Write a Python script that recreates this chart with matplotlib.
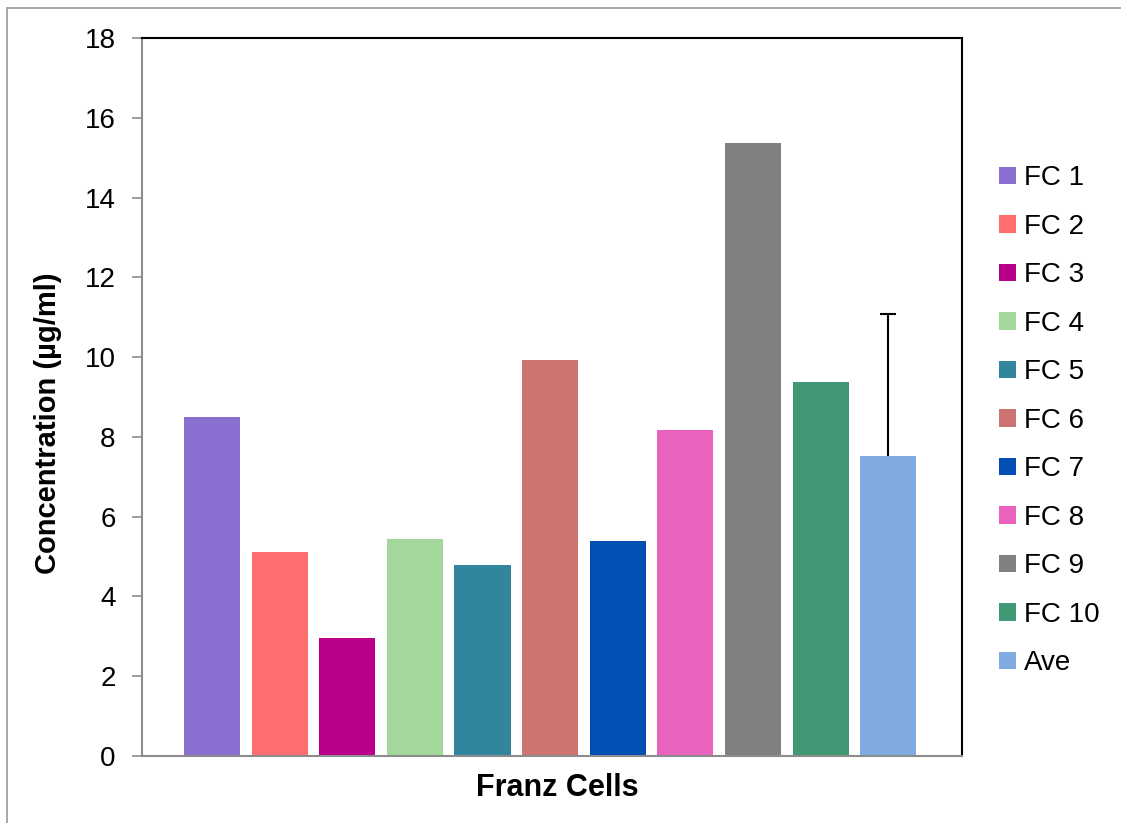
import numpy as np
import matplotlib.pyplot as plt
from matplotlib.patches import Rectangle

plt.rcParams['font.family'] = ['Liberation Sans', 'DejaVu Sans']

labels = ["FC 1", "FC 2", "FC 3", "FC 4", "FC 5", "FC 6", "FC 7", "FC 8", "FC 9", "FC 10", "Ave"]
values = [8.50, 5.12, 2.97, 5.45, 4.78, 9.93, 5.40, 8.17, 15.37, 9.37, 7.51]
ave_err_upper = 3.56
colors = ["#8B6FD0", "#FF6E6E", "#B8008A", "#A2D89A", "#31869E",
          "#CD7371", "#0350B5", "#E962BE", "#808080", "#409874", "#80ABE0"]

fig = plt.figure(figsize=(11.21, 8.23), dpi=100)
# outer chart frame (only left and top edges fall inside the image)
fig.patches.append(Rectangle((7 / 1121, -0.05), 1.2, 1 - 8 / 823 + 0.05,
                             transform=fig.transFigure, fill=False,
                             edgecolor="#9a9a9a", lw=1.2))
ax = fig.add_axes([142 / 1121, 1 - 756 / 823, 820 / 1121, 718 / 823])

x = np.arange(len(values))
for i, (v, c, lab) in enumerate(zip(values, colors, labels)):
    ax.bar(x[i], v, width=0.83, color=c, label=lab, zorder=2)
eb = ax.errorbar(x[-1], values[-1], yerr=[[0], [ave_err_upper]], fmt="none",
                 ecolor="black", elinewidth=1.5, capsize=6, capthick=1.5, zorder=3)
eb[1][0].set_visible(False)  # no cap at the bar top

ax.set_xlim(-1.035, 11.09)
ax.set_ylim(0, 18)
ax.set_yticks(range(0, 19, 2))
ax.set_xticks([])
ax.tick_params(axis="y", labelsize=20, length=7, color="#8c8c8c", pad=12, width=1.2)

ax.spines["left"].set_color("#8c8c8c")
ax.spines["left"].set_linewidth(1.5)
ax.spines["bottom"].set_color("#8c8c8c")
ax.spines["bottom"].set_linewidth(1.5)
ax.spines["top"].set_linewidth(1.5)
ax.spines["right"].set_linewidth(1.5)

ax.set_ylabel("Concentration (µg/ml)", fontsize=21, fontweight="bold")
ax.yaxis.set_label_coords(-0.098, 0.464)
ax.set_xlabel("Franz Cells", fontsize=22, fontweight="bold")
ax.xaxis.set_label_coords(0.507, -0.024)

ax.legend(loc="center left", bbox_to_anchor=(1.032, 0.467), frameon=False,
          fontsize=20, handlelength=0.6, handleheight=0.6, handletextpad=0.3,
          labelspacing=0.81, borderaxespad=0)

fig.savefig("out.png", dpi=100)
